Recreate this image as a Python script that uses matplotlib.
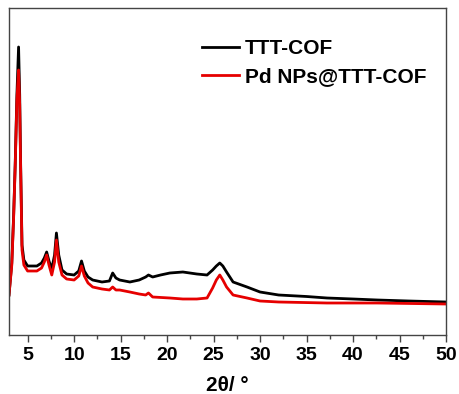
import matplotlib
matplotlib.use("Agg")
import matplotlib.pyplot as plt
from matplotlib.ticker import MultipleLocator

plt.rcParams["font.family"] = ["Liberation Sans", "DejaVu Sans"]
plt.rcParams["font.weight"] = "bold"

# values (arbitrary intensity units)
two_theta_cof = [3.0, 3.3, 3.5, 3.67, 3.85, 4.03, 4.15, 4.25, 4.4, 4.6, 5.0, 6.0, 6.5, 6.8,
                 7.05, 7.3, 7.6, 7.9, 8.1, 8.35, 8.7, 9.2, 10.0, 10.5, 10.8, 11.1, 11.5,
                 12.0, 13.0, 13.8, 14.15, 14.5, 14.9, 16.0, 17.0, 17.7, 18.0, 18.45, 19.3,
                 20.3, 21.7, 23.2, 24.3, 24.9, 25.3, 25.67, 26.0, 26.4, 27.1, 28.6, 30.0,
                 32.0, 35.0, 37.2, 40.0, 42.6, 46.0, 50.0]
intensity_cof = [40, 72, 120, 172, 240, 288, 240, 172, 90, 75, 69, 69, 72, 77,
                 83, 74, 66, 80, 102, 80, 65, 61, 60, 64, 74, 64, 58,
                 55, 53, 54, 62, 57, 55, 53, 55, 58, 60, 58, 60,
                 62, 63, 61, 60, 65, 69, 72, 69, 63, 53, 48, 43,
                 40, 38.5, 37, 36, 35, 34, 33]

two_theta_pd = [3.0, 3.3, 3.5, 3.67, 3.85, 4.03, 4.15, 4.25, 4.4, 4.6, 5.0, 6.0, 6.5, 6.8,
                7.05, 7.3, 7.6, 7.9, 8.1, 8.35, 8.7, 9.2, 10.0, 10.5, 10.8, 11.1, 11.5,
                12.0, 13.0, 13.8, 14.15, 14.5, 14.9, 16.0, 17.0, 17.7, 18.0, 18.45,
                20.3, 21.7, 23.2, 24.3, 24.9, 25.3, 25.67, 26.0, 26.4, 27.1, 28.6, 30.0,
                32.0, 37.2, 42.6, 50.0]
intensity_pd = [40, 70, 118, 170, 235, 265, 230, 168, 85, 70, 64, 64, 67, 73,
                80, 70, 60, 73, 95, 73, 60, 56, 55, 59, 69, 59, 52,
                48, 46, 45, 48, 45, 45, 43, 41, 40, 42, 38,
                37, 36, 36, 37, 47, 55, 60, 55, 48, 40, 37, 34,
                33, 32, 32, 31]

labels = ["TTT-COF", "Pd NPs@TTT-COF"]
colors = ["black", "#e60000"]

fig = plt.figure(figsize=(4.59, 3.94), dpi=100)
ax = fig.add_axes([9 / 459, 1 - 335 / 394, 437 / 459, 327 / 394])

ax.plot(two_theta_cof, intensity_cof, color=colors[0], lw=2.0, label=labels[0])
ax.plot(two_theta_pd, intensity_pd, color=colors[1], lw=2.0, label=labels[1])

ax.set_xlim(3, 50)
ax.set_ylim(0, 327)
ax.set_yticks([])
ax.xaxis.set_major_locator(MultipleLocator(5))
ax.xaxis.set_minor_locator(MultipleLocator(2.5))
ax.tick_params(axis="x", which="major", length=5, width=1, labelsize=14, pad=4, color="#444444")
ax.tick_params(axis="x", which="minor", length=3, width=1, color="#444444")
for lbl in ax.get_xticklabels():
    lbl.set_fontweight("bold")
for sp in ax.spines.values():
    sp.set_color("#444444")
    sp.set_linewidth(1)

ax.set_xlabel("2θ/ °", fontsize=15, fontweight="bold", labelpad=8)

ax.legend(loc="upper left", bbox_to_anchor=(0.4416, 0.905), frameon=False,
          borderpad=0, borderaxespad=0, handlelength=1.8, handletextpad=0.25,
          labelspacing=0.45, prop={"size": 15, "weight": "bold"})

fig.savefig("out.png", dpi=100)
